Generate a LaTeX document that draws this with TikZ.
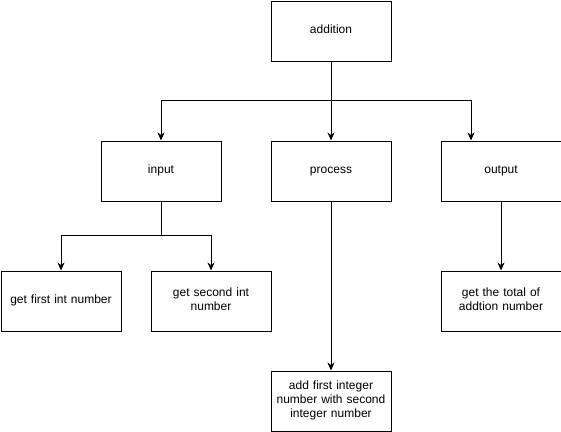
\documentclass[tikz,border=0pt]{standalone}
\usepackage{fontspec}
\setmainfont{Liberation Sans}
\usetikzlibrary{arrows.meta}
\begin{document}
\begin{tikzpicture}[x=1pt,y=-1pt,
  box/.style={draw,line width=1pt,minimum width=120pt,minimum height=60pt,inner sep=0pt,align=center,font=\fontsize{12}{14}\selectfont,anchor=north west,text width=114pt,execute at begin node=\strut,execute at end node=\strut},
  arr/.style={line width=1pt,-{Stealth[length=8pt,width=7pt,inset=2.5pt]}}]
\useasboundingbox (0,0) rectangle (561,431);
\node[box] (add) at (270.5,0.5) {addition};
\node[box] (in) at (100.5,140.5) {input};
\node[box] (proc) at (270.5,140.5) {process};
\node[box] (out) at (440.5,140.5) {output};
\node[box] (g1) at (0.5,270.5) {get first int number};
\node[box] (g2) at (150.5,270.5) {get second int\\number};
\node[box] (tot) at (440.5,270.5) {get the total of\\addtion number};
\node[box] (af) at (270.5,370.5) {add first integer\\number with second\\integer number};
\coordinate (j1) at (330.5,100.5);
\coordinate (j2) at (160.5,235.5);
\draw[arr] (add.south) -- (proc.north);
\draw[arr] (j1) -| (in.north);
\draw[arr] (j1) -| ([xshift=-30pt]out.north);
\draw[arr] (in.south) |- (j2) -| (g1.north);
\draw[arr] (j2) -| (g2.north);
\draw[arr] (proc.south) -- (af.north);
\draw[arr] (out.south) -- (tot.north);
\end{tikzpicture}
\end{document}
